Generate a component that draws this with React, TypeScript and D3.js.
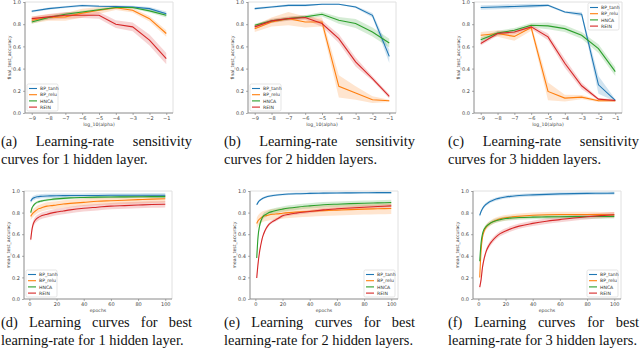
import React, { useEffect, useRef } from "react";
import * as d3 from "d3";

const methods = ["BP_tanh", "BP_relu", "HNCA", "REIN"];
const colors = ["#1f77b4", "#ff7f0e", "#2ca02c", "#d62728"];

const logAlpha = [-9, -8, -7, -6, -5, -4, -3, -2, -1];
const accTicks = [0, 0.2, 0.4, 0.6, 0.8, 1.0];
const epochTicks = [0, 20, 40, 60, 80, 100];
const epochs = [1, 2, 3, 4, 5, 6, 8, 10, 13, 16, 20, 25, 30, 40, 50, 60, 70, 80, 90, 100];

// (a) sensitivity, 1 hidden layer
const sensA_tanh = [0.916, 0.94, 0.955, 0.968, 0.962, 0.96, 0.955, 0.94, 0.895];
const sensA_relu = [0.836, 0.86, 0.866, 0.9, 0.925, 0.948, 0.925, 0.85, 0.716];
const sensA_hnca = [0.82, 0.86, 0.89, 0.91, 0.93, 0.95, 0.95, 0.92, 0.88];
const sensA_rein = [0.85, 0.866, 0.88, 0.88, 0.88, 0.8, 0.776, 0.657, 0.49];
const errA_tanh = [0.01, 0.01, 0.01, 0.01, 0.01, 0.01, 0.012, 0.015, 0.02];
const errA_relu = [0.03, 0.03, 0.035, 0.04, 0.03, 0.02, 0.02, 0.025, 0.03];
const errA_hnca = [0.015, 0.015, 0.015, 0.012, 0.012, 0.01, 0.01, 0.015, 0.02];
const errA_rein = [0.02, 0.025, 0.03, 0.025, 0.03, 0.035, 0.04, 0.05, 0.05];

// (b) sensitivity, 2 hidden layers
const sensB_tanh = [0.94, 0.955, 0.97, 0.97, 0.98, 0.98, 0.955, 0.88, 0.51];
const sensB_relu = [0.76, 0.82, 0.85, 0.82, 0.82, 0.24, 0.18, 0.12, 0.11];
const sensB_hnca = [0.79, 0.83, 0.85, 0.866, 0.89, 0.835, 0.806, 0.73, 0.63];
const sensB_rein = [0.776, 0.83, 0.85, 0.86, 0.806, 0.67, 0.46, 0.31, 0.15];
const errB_tanh = [0.01, 0.01, 0.01, 0.01, 0.005, 0.005, 0.01, 0.02, 0.06];
const errB_relu = [0.03, 0.04, 0.06, 0.05, 0.04, 0.1, 0.06, 0.03, 0.01];
const errB_hnca = [0.015, 0.015, 0.015, 0.015, 0.02, 0.03, 0.04, 0.04, 0.04];
const errB_rein = [0.02, 0.02, 0.02, 0.02, 0.03, 0.04, 0.04, 0.02, 0.02];

// (c) sensitivity, 3 hidden layers
const sensC_tanh = [0.95, 0.955, 0.96, 0.965, 0.97, 0.91, 0.89, 0.254, 0.113];
const sensC_relu = [0.7, 0.716, 0.69, 0.77, 0.194, 0.134, 0.143, 0.11, 0.11];
const sensC_hnca = [0.66, 0.72, 0.746, 0.79, 0.785, 0.76, 0.7, 0.58, 0.373];
const sensC_rein = [0.627, 0.716, 0.73, 0.776, 0.686, 0.448, 0.245, 0.125, 0.113];
const errC_tanh = [0.02, 0.02, 0.02, 0.02, 0.01, 0.01, 0.02, 0.08, 0.01];
const errC_relu = [0.03, 0.03, 0.04, 0.03, 0.08, 0.03, 0.02, 0.01, 0.01];
const errC_hnca = [0.02, 0.02, 0.02, 0.02, 0.03, 0.03, 0.03, 0.04, 0.04];
const errC_rein = [0.02, 0.02, 0.02, 0.02, 0.03, 0.04, 0.03, 0.01, 0.01];

// (d) learning curves, 1 hidden layer
const curveD_tanh = [0.905, 0.925, 0.935, 0.94, 0.945, 0.947, 0.95, 0.952, 0.954, 0.955, 0.956, 0.957, 0.958, 0.958, 0.959, 0.96, 0.96, 0.96, 0.961, 0.961];
const curveD_relu = [0.765, 0.785, 0.8, 0.81, 0.82, 0.83, 0.84, 0.85, 0.86, 0.865, 0.87, 0.88, 0.885, 0.895, 0.905, 0.91, 0.915, 0.92, 0.925, 0.928];
const curveD_hnca = [0.8, 0.845, 0.865, 0.88, 0.89, 0.897, 0.905, 0.91, 0.917, 0.922, 0.927, 0.932, 0.936, 0.94, 0.943, 0.945, 0.946, 0.947, 0.948, 0.948];
const curveD_rein = [0.55, 0.65, 0.7, 0.725, 0.74, 0.75, 0.765, 0.775, 0.785, 0.795, 0.805, 0.815, 0.825, 0.84, 0.85, 0.86, 0.865, 0.87, 0.875, 0.878];
const errD = [0.02, 0.035, 0.012, 0.03];

// (e) learning curves, 2 hidden layers
const curveE_tanh = [0.873, 0.895, 0.91, 0.92, 0.928, 0.935, 0.945, 0.952, 0.958, 0.963, 0.968, 0.972, 0.975, 0.978, 0.98, 0.982, 0.983, 0.984, 0.985, 0.985];
const curveE_relu = [0.7, 0.725, 0.74, 0.75, 0.76, 0.765, 0.772, 0.778, 0.784, 0.788, 0.794, 0.8, 0.805, 0.812, 0.818, 0.823, 0.828, 0.832, 0.835, 0.838];
const curveE_hnca = [0.38, 0.58, 0.67, 0.72, 0.75, 0.77, 0.785, 0.8, 0.812, 0.822, 0.832, 0.842, 0.85, 0.862, 0.872, 0.878, 0.883, 0.887, 0.89, 0.893];
const curveE_rein = [0.195, 0.33, 0.43, 0.5, 0.56, 0.6, 0.655, 0.69, 0.72, 0.74, 0.77, 0.785, 0.795, 0.81, 0.825, 0.835, 0.843, 0.85, 0.856, 0.862];
const errE = [0.01, 0.05, 0.025, 0.015];

// (f) learning curves, 3 hidden layers
const curveF_tanh = [0.775, 0.81, 0.835, 0.855, 0.87, 0.88, 0.898, 0.91, 0.925, 0.935, 0.945, 0.952, 0.958, 0.964, 0.969, 0.973, 0.976, 0.978, 0.979, 0.98];
const curveF_relu = [0.2, 0.45, 0.57, 0.62, 0.65, 0.67, 0.695, 0.712, 0.73, 0.742, 0.752, 0.76, 0.766, 0.775, 0.78, 0.782, 0.782, 0.782, 0.781, 0.78];
const curveF_hnca = [0.35, 0.52, 0.6, 0.64, 0.66, 0.675, 0.695, 0.71, 0.725, 0.735, 0.745, 0.75, 0.754, 0.758, 0.76, 0.762, 0.763, 0.764, 0.764, 0.765];
const curveF_rein = [0.11, 0.18, 0.29, 0.36, 0.41, 0.45, 0.5, 0.535, 0.575, 0.605, 0.63, 0.655, 0.675, 0.7, 0.72, 0.735, 0.75, 0.762, 0.772, 0.78];
const errF = [0.015, 0.025, 0.02, 0.025];

const captions = [
  ["(a) Learning-rate sensitivity", "curves for 1 hidden layer."],
  ["(b) Learning-rate sensitivity", "curves for 2 hidden layers."],
  ["(c) Learning-rate sensitivity", "curves for 3 hidden layers."],
  ["(d) Learning curves for best", "learning-rate for 1 hidden layer."],
  ["(e) Learning curves for best", "learning-rate for 2 hidden layers."],
  ["(f) Learning curves for best", "learning-rate for 3 hidden layers."],
];

const W = 640;
const H = 357;
const PW = 148; // axes width
const TICK_FONT = "DejaVu Sans, sans-serif";
const CAP_FONT = "Liberation Serif, Times New Roman, serif";

const App = () => {
  const ref = useRef<SVGSVGElement | null>(null);

  useEffect(() => {
    if (!ref.current) return;
    const svg = d3.select(ref.current);
    svg.selectAll("*").remove();

    const const9 = (v: number) => logAlpha.map(() => v);
    const panels = [
      { left: 25, top: 2, bottom: 113, xs: logAlpha, means: [sensA_tanh, sensA_relu, sensA_hnca, sensA_rein], errs: [errA_tanh, errA_relu, errA_hnca, errA_rein], legend: "ll", sens: true },
      { left: 248, top: 2, bottom: 113, xs: logAlpha, means: [sensB_tanh, sensB_relu, sensB_hnca, sensB_rein], errs: [errB_tanh, errB_relu, errB_hnca, errB_rein], legend: "ll", sens: true },
      { left: 474, top: 2, bottom: 113, xs: logAlpha, means: [sensC_tanh, sensC_relu, sensC_hnca, sensC_rein], errs: [errC_tanh, errC_relu, errC_hnca, errC_rein], legend: "ur", sens: true },
      { left: 24, top: 191, bottom: 299, xs: epochs, means: [curveD_tanh, curveD_relu, curveD_hnca, curveD_rein], errs: errD.map((e) => epochs.map(() => e)), legend: "ll", sens: false },
      { left: 250, top: 191, bottom: 299, xs: epochs, means: [curveE_tanh, curveE_relu, curveE_hnca, curveE_rein], errs: errE.map((e) => epochs.map(() => e)), legend: "lr", sens: false },
      { left: 473, top: 191, bottom: 299, xs: epochs, means: [curveF_tanh, curveF_relu, curveF_hnca, curveF_rein], errs: errF.map((e) => epochs.map(() => e)), legend: "lr", sens: false },
    ];
    void const9;

    panels.forEach((p, pi) => {
      const g = svg.append("g");
      const right = p.left + PW;
      const xMin = d3.min(p.xs) as number;
      const xMax = d3.max(p.xs) as number;
      const pad = (xMax - xMin) * 0.05; // matplotlib default margins
      const x = d3.scaleLinear().domain([xMin - pad, xMax + pad]).range([p.left, right]);
      const y = d3.scaleLinear().domain([0, 1]).range([p.bottom, p.top]);
      const curve = p.sens ? d3.curveLinear : d3.curveMonotoneX;

      const clipId = `clip${pi}`;
      g.append("clipPath").attr("id", clipId).append("rect")
        .attr("x", p.left).attr("y", p.top).attr("width", PW).attr("height", p.bottom - p.top);
      const plot = g.append("g").attr("clip-path", `url(#${clipId})`);

      p.means.forEach((m, si) => {
        const pts = p.xs.map((xv, k) => ({ x: xv, m: m[k], e: p.errs[si][k] }));
        const area = d3.area<any>().x((d) => x(d.x)).y0((d) => y(d.m - d.e)).y1((d) => y(d.m + d.e)).curve(curve);
        plot.append("path").attr("d", area(pts)).attr("fill", colors[si]).attr("opacity", 0.2);
      });
      p.means.forEach((m, si) => {
        const pts = p.xs.map((xv, k) => ({ x: xv, m: m[k] }));
        const line = d3.line<any>().x((d) => x(d.x)).y((d) => y(d.m)).curve(curve);
        plot.append("path").attr("d", line(pts)).attr("fill", "none")
          .attr("stroke", colors[si]).attr("stroke-width", 1.1);
      });

      // frame: light top/right, darker left/bottom
      g.append("line").attr("x1", p.left).attr("x2", right).attr("y1", p.top).attr("y2", p.top).attr("stroke", "#e0e0e0");
      g.append("line").attr("x1", right).attr("x2", right).attr("y1", p.top).attr("y2", p.bottom).attr("stroke", "#e0e0e0");
      g.append("line").attr("x1", p.left).attr("x2", p.left).attr("y1", p.top).attr("y2", p.bottom).attr("stroke", "#8a8a8a");
      g.append("line").attr("x1", p.left).attr("x2", right).attr("y1", p.bottom).attr("y2", p.bottom).attr("stroke", "#8a8a8a");

      const yAxis = g.append("g").attr("transform", `translate(${p.left},0)`)
        .call(d3.axisLeft(y).tickValues(accTicks).tickFormat(d3.format(".1f")).tickSize(2).tickPadding(2));
      const xAxis = g.append("g").attr("transform", `translate(0,${p.bottom})`)
        .call(d3.axisBottom(x).tickValues(p.sens ? logAlpha : epochTicks).tickFormat(d3.format("d")).tickSize(2).tickPadding(1.5));
      [yAxis, xAxis].forEach((a) => {
        a.select(".domain").remove();
        a.selectAll("line").attr("stroke", "#777").attr("stroke-width", 0.6);
        a.selectAll("text").attr("font-size", 5).attr("font-family", TICK_FONT).attr("fill", "#444");
      });

      g.append("text").attr("transform", `translate(${p.left - 14},${(p.top + p.bottom) / 2}) rotate(-90)`)
        .attr("text-anchor", "middle").attr("font-size", 4.6).attr("font-family", TICK_FONT).attr("fill", "#444")
        .text(p.sens ? "final_test_accuracy" : "mean_test_accuracy");
      g.append("text").attr("x", (p.left + right) / 2).attr("y", p.bottom + 12.5)
        .attr("text-anchor", "middle").attr("font-size", 4.6).attr("font-family", TICK_FONT).attr("fill", "#444")
        .text(p.sens ? "log_10(alpha)" : "epochs");

      // legend
      const lw = 31;
      const lh = 27;
      const lx = p.legend === "ll" ? p.left + 2 : right - lw - 3;
      const ly = p.legend === "ur" ? p.top + 1 : p.bottom - lh - 2;
      const lg = g.append("g").attr("transform", `translate(${lx},${ly})`);
      lg.append("rect").attr("width", lw).attr("height", lh).attr("rx", 1.5)
        .attr("fill", "white").attr("fill-opacity", 0.85).attr("stroke", "#d5d5d5").attr("stroke-width", 0.6);
      methods.forEach((name, si) => {
        const ry = 4.5 + si * 6.2;
        lg.append("line").attr("x1", 2).attr("x2", 10).attr("y1", ry).attr("y2", ry)
          .attr("stroke", colors[si]).attr("stroke-width", 1.1);
        lg.append("text").attr("x", 13).attr("y", ry + 1.7).attr("font-size", 4.6)
          .attr("font-family", TICK_FONT).attr("fill", "#333").text(name);
      });
    });

    // captions, first line justified across the column
    const colX = [1, 224, 448];
    const capW = 191;
    const rowBase = [146, 327];
    captions.forEach((c, i) => {
      const x0 = colX[i % 3];
      const base = rowBase[Math.floor(i / 3)];
      const words = c[0].split(" ");
      const nodes = words.map((w) =>
        svg.append("text").attr("font-size", 14.4).attr("font-family", CAP_FONT).attr("fill", "#111").text(w)
      );
      const widths = nodes.map((n) => (n.node() as SVGTextElement).getComputedTextLength());
      const gap = (capW - d3.sum(widths)) / (words.length - 1);
      let cx = x0;
      nodes.forEach((n, k) => {
        n.attr("x", cx).attr("y", base);
        cx += widths[k] + gap;
      });
      svg.append("text").attr("x", x0).attr("y", base + 18).attr("font-size", 14.4)
        .attr("font-family", CAP_FONT).attr("fill", "#111").text(c[1]);
    });
  }, []);

  return (
    <div style={{ position: "absolute", left: 0, top: 0 }}>
      <svg ref={ref} width={W} height={H} style={{ display: "block", background: "white" }} />
    </div>
  );
};

export default App;
